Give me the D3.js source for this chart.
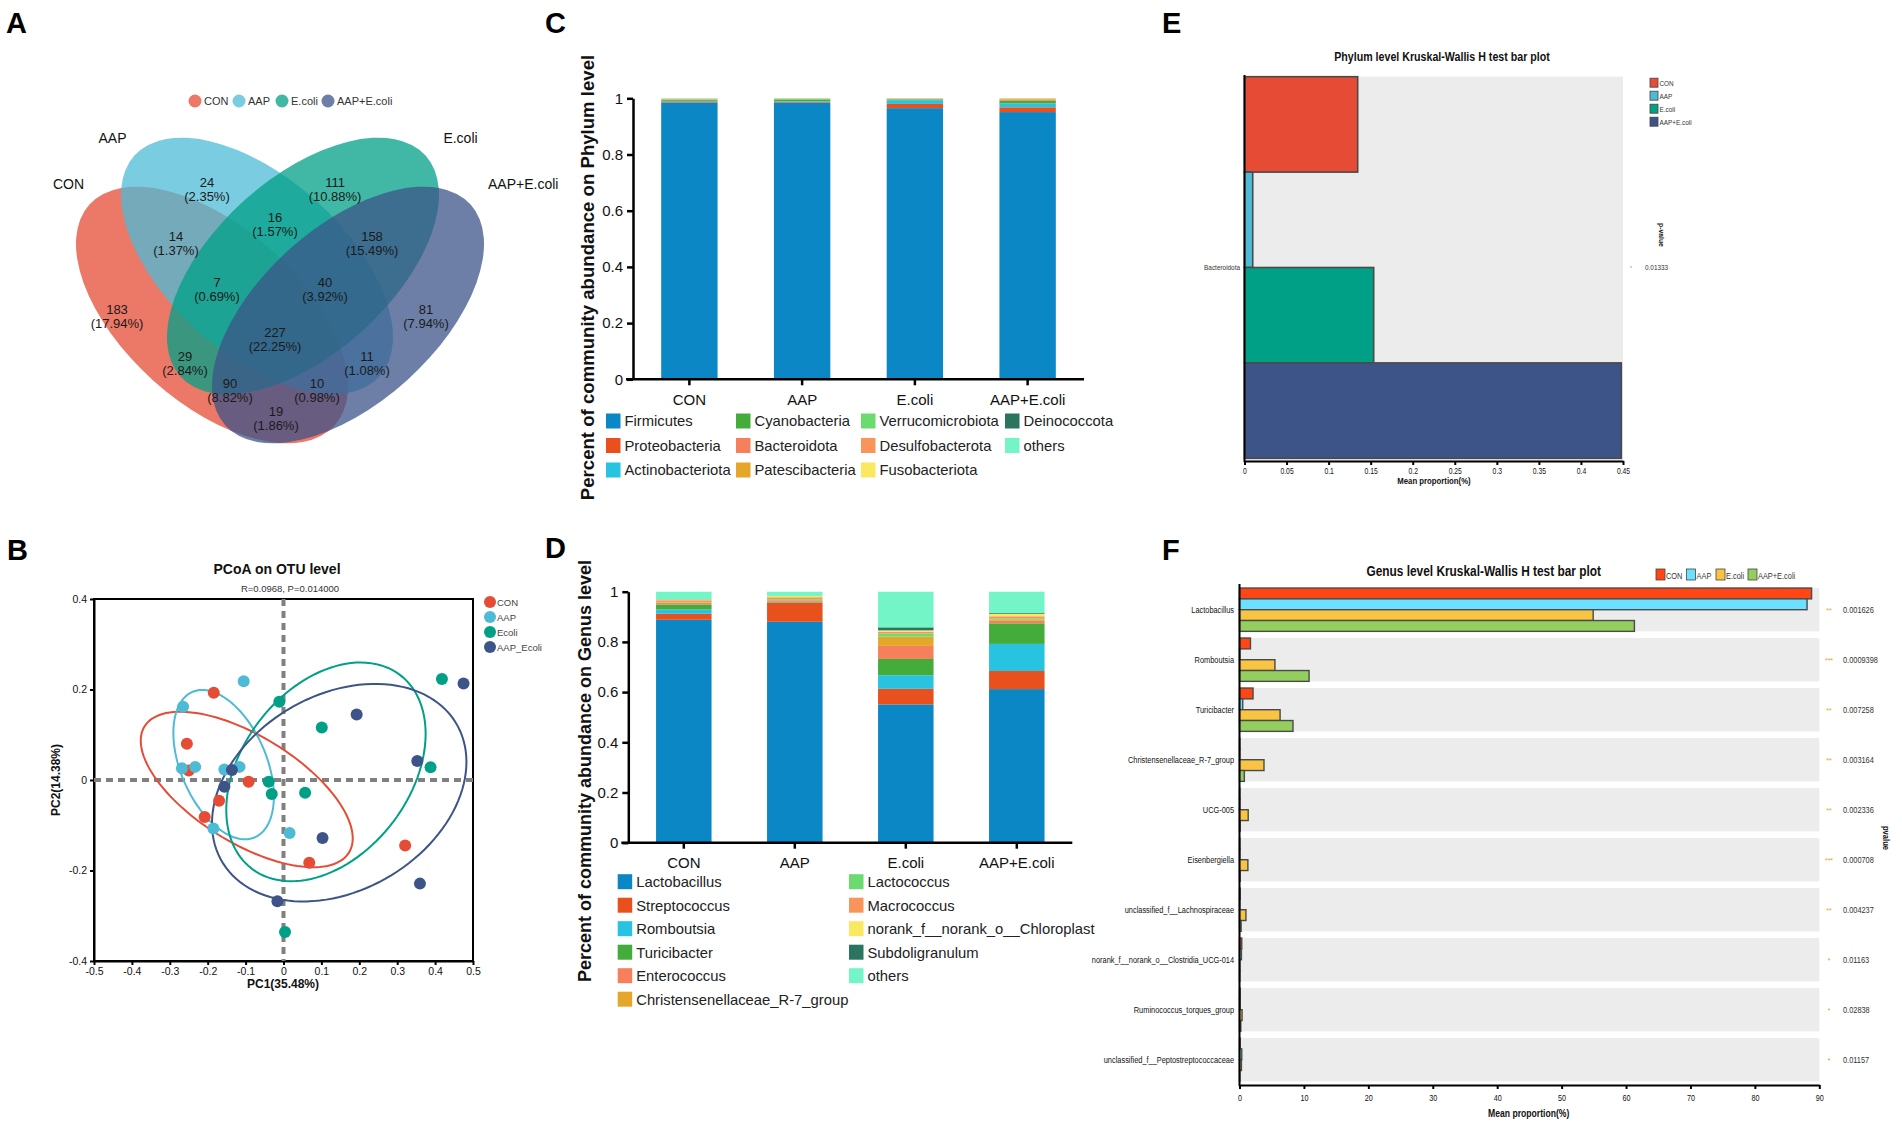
<!DOCTYPE html>
<html>
<head>
<meta charset="utf-8">
<title>Gut microbiota figure</title>
<script src="https://cdn.jsdelivr.net/npm/d3@7"></script>
<style>
  body { margin: 0; background: #fff; }
  svg { display: block; font-family: Arial, "Liberation Sans", Helvetica, sans-serif; }
</style>
</head>
<body>
<svg id="fig" width="1902" height="1131"></svg>
<script>
// ---------- data ----------
var groups = ["CON", "AAP", "E.coli", "AAP+E.coli"];

// A: OTU venn, region counts
var vennRegions = ["CON", "AAP", "E.coli", "AAP+E.coli",
  "CON&AAP", "AAP&E.coli", "E.coli&AAP+E.coli", "CON&E.coli", "AAP&AAP+E.coli", "CON&AAP+E.coli",
  "CON&AAP&E.coli", "AAP&E.coli&AAP+E.coli", "CON&E.coli&AAP+E.coli", "CON&AAP&AAP+E.coli", "all"];
var vennCounts = [183, 24, 111, 81, 14, 16, 158, 29, 11, 19, 7, 40, 90, 10, 227];

// B: PCoA scores (PC1, PC2)
var pcoaLegend = ["CON", "AAP", "Ecoli", "AAP_Ecoli"];
var pcoaCON = [[-0.184, 0.193], [-0.255, 0.080], [-0.250, 0.021], [-0.092, -0.004],
  [-0.170, -0.046], [-0.208, -0.082], [0.068, -0.183], [0.321, -0.145]];
var pcoaAAP = [[-0.105, 0.218], [-0.265, 0.162], [-0.268, 0.026], [-0.233, 0.029],
  [-0.156, 0.023], [-0.116, 0.029], [-0.185, -0.107], [0.016, -0.117]];
var pcoaEcoli = [[-0.011, 0.173], [0.101, 0.116], [-0.039, -0.004], [-0.031, -0.031],
  [0.057, -0.028], [0.418, 0.223], [0.388, 0.028], [0.004, -0.336]];
var pcoaAAPEcoli = [[-0.136, 0.022], [-0.156, -0.015], [0.193, 0.145], [0.475, 0.213],
  [0.353, 0.042], [0.103, -0.128], [0.360, -0.229], [-0.016, -0.268]];
// group ellipses: centre x, centre y, semi-axis 1 (x,y), semi-axis 2 (x,y)
var pcoaEllipses = [
  [-0.097, -0.021, 0.272, -0.136, -0.065, -0.105],
  [-0.158, 0.034, 0.0865, -0.159, -0.1005, -0.0443],
  [0.112, 0.018, 0.2117, 0.2022, 0.1561, -0.1324],
  [0.147, -0.028, 0.319, 0.1364, 0.1045, -0.198]
];

// C: phylum composition, one row per phylum (CON, AAP, E.coli, AAP+E.coli)
var phyla = ["Firmicutes", "Proteobacteria", "Actinobacteriota", "Cyanobacteria", "Bacteroidota",
  "Patescibacteria", "Verrucomicrobiota", "Desulfobacterota", "Fusobacteriota", "Deinococcota", "others"];
var phylumShares = [
  [0.985, 0.985, 0.965, 0.951],
  [0.004, 0.003, 0.015, 0.017],
  [0.002, 0.002, 0.013, 0.014],
  [0.003, 0.006, 0.003, 0.009],
  [0.0013, 0.0001, 0.0015, 0.0045],
  [0.001, 0.001, 0.0005, 0.003],
  [0.002, 0.002, 0.001, 0.0005],
  [0.0005, 0.0002, 0.0004, 0.0003],
  [0.0003, 0.0002, 0.0002, 0.0003],
  [0.0002, 0.0002, 0.0002, 0.0002],
  [0.0007, 0.0001, 0.0002, 0.0002]
];

// D: genus composition
var genera = ["Lactobacillus", "Streptococcus", "Romboutsia", "Turicibacter", "Enterococcus",
  "Christensenellaceae_R-7_group", "Lactococcus", "Macrococcus", "norank_f__norank_o__Chloroplast",
  "Subdoligranulum", "others"];
var genusShares = [
  [0.888, 0.880, 0.551, 0.612],
  [0.024, 0.077, 0.062, 0.072],
  [0.017, 0.001, 0.054, 0.108],
  [0.020, 0.003, 0.065, 0.082],
  [0.006, 0.005, 0.052, 0.010],
  [0.001, 0.000, 0.037, 0.006],
  [0.002, 0.004, 0.012, 0.004],
  [0.008, 0.008, 0.008, 0.008],
  [0.003, 0.005, 0.005, 0.010],
  [0.001, 0.000, 0.012, 0.003],
  [0.030, 0.017, 0.142, 0.085]
];

// E: phylum Kruskal-Wallis
var kwPhylum = ["Bacteroidota"];
var kwPhylumMeans = [0.1346, 0.0098, 0.1536, 0.448];
var kwPhylumP = ["0.01333"];
var kwPhylumStars = ["*"];
var kwPhylumTicks = [0, 0.05, 0.1, 0.15, 0.2, 0.25, 0.3, 0.35, 0.4, 0.45];

// F: genus Kruskal-Wallis
var kwGenus = ["Lactobacillus", "Romboutsia", "Turicibacter", "Christensenellaceae_R-7_group", "UCG-005",
  "Eisenbergiella", "unclassified_f__Lachnospiraceae", "norank_f__norank_o__Clostridia_UCG-014",
  "Ruminococcus_torques_group", "unclassified_f__Peptostreptococcaceae"];
var kwGenusCON = [88.8, 1.7, 2.1, 0.05, 0.05, 0.05, 0.1, 0.35, 0.1, 0.1];
var kwGenusAAP = [88.1, 0.05, 0.5, 0.05, 0.05, 0.05, 0.05, 0.3, 0.1, 0.35];
var kwGenusEcoli = [54.9, 5.5, 6.3, 3.8, 1.35, 1.3, 1.0, 0.05, 0.4, 0.3];
var kwGenusAAPE = [61.3, 10.8, 8.3, 0.75, 0.1, 0.1, 0.25, 0.05, 0.2, 0.05];
var kwGenusP = ["0.001626", "0.0009398", "0.007258", "0.003164", "0.002336", "0.000708",
  "0.004237", "0.01163", "0.02838", "0.01157"];
var kwGenusStars = ["**", "***", "**", "**", "**", "***", "**", "*", "*", "*"];
var kwGenusTicks = [0, 10, 20, 30, 40, 50, 60, 70, 80, 90];

// ---------- colours ----------
var npg = ["#E64B35", "#4DBBD5", "#00A087", "#3C5488"];
var stackColors = ["#0B87C6", "#E8511E", "#27C3E0", "#43AC3A", "#F6805C", "#E4A72A",
  "#6BDB6F", "#F9955A", "#F9E860", "#2B7460", "#74F5C8"];
var kwGenusColors = ["#FF4614", "#6BE0FF", "#F7C443", "#93CE5E"];

var svg = d3.select("#fig");

function label(g, x, y, txt, o) {
  o = o || {};
  var tf = "translate(" + x + "," + y + ")";
  if (o.rot) tf += " rotate(" + o.rot + ")";
  if (o.sx) tf += " scale(" + o.sx + ",1)";
  return g.append("text")
    .attr("transform", tf)
    .attr("text-anchor", o.anchor || "middle")
    .attr("font-size", o.size || 12)
    .attr("font-weight", o.bold ? "bold" : null)
    .attr("fill", o.fill || "#111")
    .text(txt);
}

function styleAxis(g, size, lw, sx) {
  g.attr("font-family", null).attr("font-size", size);
  g.select(".domain").attr("stroke", "#000").attr("stroke-width", lw);
  g.selectAll(".tick line").attr("stroke", "#000").attr("stroke-width", lw);
  g.selectAll(".tick text").attr("fill", "#111");
  if (sx) g.selectAll(".tick text").attr("transform", "scale(" + sx + ",1)");
}

// panel letters
[["A", 6, 33], ["B", 7, 560], ["C", 545, 33], ["D", 545, 558], ["E", 1162, 33], ["F", 1162, 560]]
  .forEach(function(p) { label(svg, p[1], p[2], p[0], {size: 29, bold: true, anchor: "start", fill: "#000"}); });

// ---------- A: venn ----------
var gA = svg.append("g");
var vx = d3.scaleLinear().domain([0, 440]).range([60, 500]);
var vy = d3.scaleLinear().domain([0, 330]).range([140, 470]);
var vennShapes = [[152, 175, 42], [197, 126, 42], [243, 126, -42], [288, 175, -42]];
var vennA = 165, vennB = 88;

gA.selectAll("ellipse").data(vennShapes).join("ellipse")
  .attr("transform", function(d) { return "translate(" + vx(d[0]) + "," + vy(d[1]) + ") rotate(" + d[2] + ")"; })
  .attr("rx", vx(vennA) - vx(0))
  .attr("ry", vy(vennB) - vy(0))
  .attr("fill", function(d, i) { return npg[i]; })
  .attr("fill-opacity", 0.75);

var vennTotal = d3.sum(vennCounts);
var vennLabelPos = [[57, 169], [147, 42], [275, 42], [366, 169], [116, 96], [215, 77], [312, 96],
  [125, 216], [307, 216], [216, 271], [157, 142], [265, 142], [170, 243], [257, 243], [215, 192]];
vennCounts.forEach(function(c, i) {
  var p = vennLabelPos[i];
  label(gA, vx(p[0]), vy(p[1]) + 4.5, c, {size: 13, fill: "#1a1a1a"});
  label(gA, vx(p[0]), vy(p[1]) + 19, "(" + d3.format(".2f")(c / vennTotal * 100) + "%)", {size: 13, fill: "#1a1a1a"});
});

// set names
label(gA, vx(52.5), vy(3), "AAP", {size: 14});
label(gA, vx(400.5), vy(3), "E.coli", {size: 14});
label(gA, vx(8.5), vy(49), "CON", {size: 14});
label(gA, vx(428), vy(49), "AAP+E.coli", {size: 14, anchor: "start"});

// legend
var vennLegendX = [195, 239, 282, 328];
groups.forEach(function(gname, i) {
  gA.append("circle").attr("cx", vennLegendX[i]).attr("cy", 101).attr("r", 6.5)
    .attr("fill", npg[i]).attr("fill-opacity", 0.75);
  label(gA, vennLegendX[i] + 9, 105, gname, {size: 11, anchor: "start", fill: "#333"});
});

// ---------- B: PCoA ----------
var gB = svg.append("g");
var px = d3.scaleLinear().domain([-0.5, 0.5]).range([94, 473]);
var py = d3.scaleLinear().domain([-0.4, 0.4]).range([961, 599]);

var tickFmt1 = function(d) { var v = Math.round(d * 10) / 10; return v === 0 ? "0" : String(v); };
var bx = gB.append("g").attr("transform", "translate(0," + py(-0.4) + ")")
  .call(d3.axisBottom(px).tickValues(d3.range(-5, 6).map(function(k) { return k / 10; }))
    .tickFormat(tickFmt1).tickSize(4).tickSizeOuter(0).tickPadding(3));
styleAxis(bx, 10.5, 2);
var by = gB.append("g").attr("transform", "translate(" + px(-0.5) + ",0)")
  .call(d3.axisLeft(py).tickValues([-0.4, -0.2, 0, 0.2, 0.4]).tickFormat(tickFmt1)
    .tickSize(4).tickSizeOuter(0).tickPadding(3));
styleAxis(by, 10.5, 2);
gB.append("rect").attr("x", px(-0.5)).attr("y", py(0.4))
  .attr("width", px(0.5) - px(-0.5)).attr("height", py(-0.4) - py(0.4))
  .attr("fill", "none").attr("stroke", "#000").attr("stroke-width", 2);

gB.append("line").attr("x1", px(0)).attr("x2", px(0)).attr("y1", py(0.4)).attr("y2", py(-0.4))
  .attr("stroke", "#808080").attr("stroke-width", 4).attr("stroke-dasharray", "7,5");
gB.append("line").attr("x1", px(-0.5)).attr("x2", px(0.5)).attr("y1", py(0)).attr("y2", py(0))
  .attr("stroke", "#808080").attr("stroke-width", 4).attr("stroke-dasharray", "7,5");

var ellLine = d3.line().curve(d3.curveLinearClosed);
pcoaEllipses.forEach(function(e, i) {
  var pts = d3.range(0, 120).map(function(k) {
    var t = k / 120 * 2 * Math.PI;
    return [px(e[0] + e[2] * Math.cos(t) + e[4] * Math.sin(t)),
            py(e[1] + e[3] * Math.cos(t) + e[5] * Math.sin(t))];
  });
  gB.append("path").attr("d", ellLine(pts)).attr("fill", "none")
    .attr("stroke", npg[i]).attr("stroke-width", 2);
});

[pcoaCON, pcoaAAP, pcoaEcoli, pcoaAAPEcoli].forEach(function(pts, i) {
  gB.append("g").selectAll("circle").data(pts).join("circle")
    .attr("cx", function(d) { return px(d[0]); })
    .attr("cy", function(d) { return py(d[1]); })
    .attr("r", 6).attr("fill", npg[i]);
});

label(gB, 277, 574, "PCoA on OTU level", {size: 14, bold: true});
label(gB, 290, 591.5, "R=0.0968, P=0.014000", {size: 9.5, fill: "#333"});
label(gB, 283, 988, "PC1(35.48%)", {size: 12, bold: true});
label(gB, 60, 780, "PC2(14.38%)", {size: 12, bold: true, rot: -90});
pcoaLegend.forEach(function(n, i) {
  var y = 602 + i * 15;
  gB.append("circle").attr("cx", 490).attr("cy", y).attr("r", 6).attr("fill", npg[i]);
  label(gB, 497, y + 3.5, n, {size: 9.5, anchor: "start", fill: "#444"});
});

// ---------- C & D: stacked composition bars ----------
function stackedPanel(cfg) {
  var g = svg.append("g");
  var x = d3.scaleBand().domain(groups).range(cfg.xr).paddingInner(0.5).paddingOuter(0.25);
  var y = d3.scaleLinear().domain([0, 1]).range(cfg.yr);
  var table = groups.map(function(gname, j) {
    var row = {group: gname};
    cfg.names.forEach(function(n, k) { row[n] = cfg.shares[k][j]; });
    return row;
  });
  var series = d3.stack().keys(cfg.names)(table);
  g.selectAll("g.layer").data(series).join("g").attr("class", "layer")
    .attr("fill", function(d, k) { return stackColors[k]; })
    .selectAll("rect").data(function(d) { return d; }).join("rect")
    .attr("x", function(d) { return x(d.data.group); })
    .attr("width", x.bandwidth())
    .attr("y", function(d) { return y(d[1]); })
    .attr("height", function(d) { return y(d[0]) - y(d[1]); });

  var ya = g.append("g").attr("transform", "translate(" + cfg.xr[0] + ",0)")
    .call(d3.axisLeft(y).tickValues([0, 0.2, 0.4, 0.6, 0.8, 1])
      .tickFormat(function(d) { return d === 0 || d === 1 ? String(d) : d.toFixed(1); })
      .tickSize(6).tickSizeOuter(0).tickPadding(4));
  styleAxis(ya, 15, 2.5);
  var xa = g.append("g").attr("transform", "translate(0," + cfg.yr[0] + ")")
    .call(d3.axisBottom(x).tickSize(6).tickSizeOuter(0).tickPadding(9));
  styleAxis(xa, 15, 2.5);
  xa.select(".domain").attr("d", "M" + (cfg.xr[0] - 7) + ",0H" + cfg.xr[1]);

  label(g, cfg.titleX, cfg.titleMid, cfg.title, {size: cfg.titleSize, bold: true, rot: -90});

  cfg.names.forEach(function(n, k) {
    var col = Math.floor(k / cfg.rows), row = k % cfg.rows;
    var sx = cfg.legX[col], cy = cfg.legY0 + row * cfg.legDy;
    g.append("rect").attr("x", sx).attr("y", cy - 7.5).attr("width", 14.5).attr("height", 15)
      .attr("fill", stackColors[k]);
    label(g, sx + 18.5, cy + 5.3, n, {size: 14.8, anchor: "start", fill: "#222"});
  });
}

stackedPanel({
  names: phyla, shares: phylumShares, xr: [633, 1084], yr: [379.3, 98.3],
  title: "Percent of community abundance on Phylum level", titleX: 594, titleMid: 277.5, titleSize: 18.6,
  rows: 3, legX: [606, 736, 861, 1005], legY0: 421, legDy: 24.5
});
stackedPanel({
  names: genera, shares: genusShares, xr: [628.3, 1072.3], yr: [842.7, 591.7],
  title: "Percent of community abundance on Genus level", titleX: 590.5, titleMid: 771, titleSize: 18,
  rows: 6, legX: [617.7, 849], legY0: 881.7, legDy: 23.5
});

// ---------- E: phylum Kruskal-Wallis ----------
var gE = svg.append("g");
var ex = d3.scaleLinear().domain([0, 0.45]).range([1244.5, 1623]);
var eCat = d3.scaleBand().domain(kwPhylum).range([76.7, 458.3]);
var eSub = d3.scaleBand().domain(groups).range([0, eCat.bandwidth()]);
gE.append("rect").attr("x", ex(0)).attr("y", 76.7).attr("width", ex(0.45) - ex(0)).attr("height", 384.3)
  .attr("fill", "#ececec");
kwPhylum.forEach(function(name) {
  gE.selectAll("rect.bar").data(kwPhylumMeans).join("rect").attr("class", "bar")
    .attr("x", ex(0))
    .attr("y", function(d, i) { return eCat(name) + eSub(groups[i]); })
    .attr("width", function(d) { return ex(d) - ex(0); })
    .attr("height", eSub.bandwidth())
    .attr("fill", function(d, i) { return npg[i]; })
    .attr("stroke", "#4a4a4a").attr("stroke-width", 1.6);
  label(gE, 1240, eCat(name) + eCat.bandwidth() / 2 + 2.5, name, {size: 8, anchor: "end", sx: 0.8, fill: "#333"});
});
var exa = gE.append("g").attr("transform", "translate(0,461)")
  .call(d3.axisBottom(ex).tickValues(kwPhylumTicks).tickFormat(function(d) { return String(+d.toFixed(2)); })
    .tickSize(4).tickSizeOuter(0).tickPadding(3));
styleAxis(exa, 8.5, 2, 0.8);
gE.append("line").attr("x1", ex(0)).attr("x2", ex(0)).attr("y1", 75).attr("y2", 462)
  .attr("stroke", "#000").attr("stroke-width", 2);
label(gE, 1442, 61, "Phylum level Kruskal-Wallis H test bar plot", {size: 13, bold: true, sx: 0.82});
label(gE, 1434, 484, "Mean proportion(%)", {size: 9.5, bold: true, sx: 0.82});
kwPhylum.forEach(function(name, i) {
  var cy = eCat(name) + eCat.bandwidth() / 2;
  label(gE, 1631, cy + 2.5, kwPhylumStars[i], {size: 6, fill: "#999"});
  label(gE, 1645, cy + 2.5, kwPhylumP[i], {size: 8, anchor: "start", sx: 0.8, fill: "#333"});
});
label(gE, 1659, 235, "p-value", {size: 8, bold: true, rot: 90, sx: 0.85});
groups.forEach(function(n, i) {
  var cy = 82.7 + i * 13;
  gE.append("rect").attr("x", 1650).attr("y", cy - 4.5).attr("width", 8).attr("height", 9)
    .attr("fill", npg[i]).attr("stroke", "#444").attr("stroke-width", 0.8);
  label(gE, 1659.5, cy + 2.8, n, {size: 8, anchor: "start", sx: 0.8, fill: "#333"});
});

// ---------- F: genus Kruskal-Wallis ----------
var gF = svg.append("g");
var fx = d3.scaleLinear().domain([0, 90]).range([1239.5, 1819.3]);
var fy = d3.scaleBand().domain(kwGenus).range([584.7, 1084.7]).paddingInner(0.1333).paddingOuter(0.0667);
var fSub = d3.scaleBand().domain(groups).range([0, fy.bandwidth()]);
var fSeries = [kwGenusCON, kwGenusAAP, kwGenusEcoli, kwGenusAAPE];

gF.selectAll("rect.bg").data(kwGenus).join("rect").attr("class", "bg")
  .attr("x", fx(0)).attr("y", function(d) { return fy(d); })
  .attr("width", fx(90) - fx(0)).attr("height", fy.bandwidth()).attr("fill", "#ececec");
fSeries.forEach(function(vals, gi) {
  gF.append("g").selectAll("rect").data(vals).join("rect")
    .attr("x", fx(0))
    .attr("y", function(d, i) { return fy(kwGenus[i]) + fSub(groups[gi]); })
    .attr("width", function(d) { return fx(d) - fx(0); })
    .attr("height", fSub.bandwidth())
    .attr("fill", kwGenusColors[gi])
    .attr("stroke", "#4a4a4a").attr("stroke-width", 1.4);
});
var fxa = gF.append("g").attr("transform", "translate(0,1085)")
  .call(d3.axisBottom(fx).tickValues(kwGenusTicks).tickSize(4).tickSizeOuter(0).tickPadding(6));
styleAxis(fxa, 9, 2, 0.8);
var fya = gF.append("g").attr("transform", "translate(" + fx(0) + ",0)")
  .call(d3.axisLeft(fy).tickSize(0).tickPadding(7));
styleAxis(fya, 9.5, 2, 0.78);
fya.select(".domain").attr("d", "M0,584H0V1086");

kwGenus.forEach(function(name, i) {
  var cy = fy(name) + fy.bandwidth() / 2;
  label(gF, 1829, cy + 3, kwGenusStars[i], {size: 7, fill: "#D9A520"});
  label(gF, 1843, cy + 3, kwGenusP[i], {size: 9.5, anchor: "start", sx: 0.78, fill: "#333"});
});
label(gF, 1483.7, 576, "Genus level Kruskal-Wallis H test bar plot", {size: 14.5, bold: true, sx: 0.82});
label(gF, 1528.7, 1117, "Mean proportion(%)", {size: 10.5, bold: true, sx: 0.82});
label(gF, 1883, 838, "pvalue", {size: 9, bold: true, rot: 90, sx: 0.85});
var fLegX = [1656, 1686.6, 1716, 1748];
groups.forEach(function(n, i) {
  gF.append("rect").attr("x", fLegX[i]).attr("y", 569).attr("width", 9).attr("height", 11)
    .attr("fill", kwGenusColors[i]).attr("stroke", "#444").attr("stroke-width", 0.8);
  label(gF, fLegX[i] + 10, 578.5, n, {size: 9.5, anchor: "start", sx: 0.78, fill: "#333"});
});
</script>
</body>
</html>
